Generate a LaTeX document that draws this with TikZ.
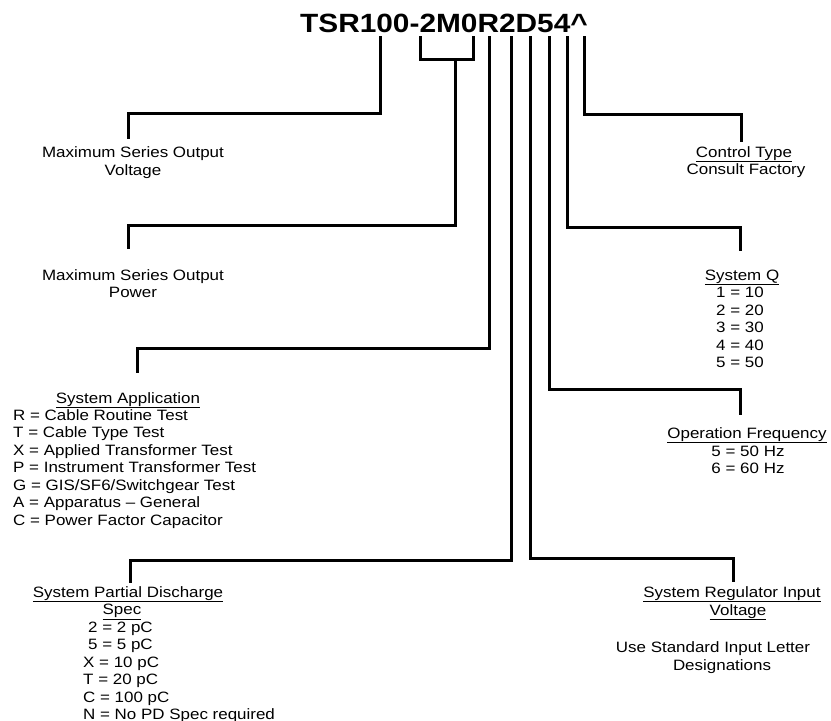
\documentclass[tikz,border=0pt]{standalone}
\usepackage{fontspec}
\setmainfont[FakeStretch=1.13]{Liberation Sans}
\begin{document}
\begin{tikzpicture}[x=1pt,y=-1pt,
  lead/.style={line width=3pt, line join=miter},
  title/.style={inner sep=0pt, anchor=base, font=\fontsize{26.4pt}{30pt}\selectfont\bfseries},
  lbl/.style={inner sep=0pt, anchor=base, font=\fontsize{15pt}{17.5pt}\selectfont},
  lblL/.style={lbl, anchor=base west}]
\useasboundingbox[fill=white] (0,0) rectangle (831,721);

% title
\node[title] (code) at (444,32) {TSR100-2M0R2D54\textasciicircum};

% connector coordinates
\coordinate (t1) at (380,36); \coordinate (k1) at (128,113); \coordinate (e1) at (128,139);
\coordinate (b1) at (420,36); \coordinate (bl) at (420,59); \coordinate (br) at (473,59); \coordinate (b2) at (473,36);
\coordinate (s2) at (455,59); \coordinate (k2) at (128,225); \coordinate (e2) at (128,249);
\coordinate (t3) at (489,36); \coordinate (k3) at (137,348); \coordinate (e3) at (137,373);
\coordinate (t4) at (511,36); \coordinate (k4) at (130,560); \coordinate (e4) at (130,583);
\coordinate (t5) at (530,36); \coordinate (k5) at (733,558); \coordinate (e5) at (733,582);
\coordinate (t6) at (549,36); \coordinate (k6) at (740,389); \coordinate (e6) at (740,415);
\coordinate (t7) at (567,36); \coordinate (k7) at (740,227); \coordinate (e7) at (740,251);
\coordinate (t8) at (584,36); \coordinate (k8) at (741,114); \coordinate (e8) at (741,142);

\draw[lead] (t1) |- (k1) -- (e1);
\draw[lead] (b1) -- (bl) -- (br) -- (b2);
\draw[lead] (s2) |- (k2) -- (e2);
\draw[lead] (t3) |- (k3) -- (e3);
\draw[lead] (t4) |- (k4) -- (e4);
\draw[lead] (t5) |- (k5) -- (e5);
\draw[lead] (t6) |- (k6) -- (e6);
\draw[lead] (t7) |- (k7) -- (e7);
\draw[lead] (t8) |- (k8) -- (e8);

% left texts
\node[lbl] (v1) at (133,157) {Maximum Series Output};
\node[lbl] (v2) at (133,175) {Voltage};
\node[lbl] (p1) at (133,280) {Maximum Series Output};
\node[lbl] (p2) at (133,297) {Power};

\node[lbl] (a0) at (128,403) {\underline{System Application}};
\node[lblL] (a1) at (13,420) {R = Cable Routine Test};
\node[lblL] (a2) at (13,437.5) {T = Cable Type Test};
\node[lblL] (a3) at (13,455) {X = Applied Transformer Test};
\node[lblL] (a4) at (13,472.5) {P = Instrument Transformer Test};
\node[lblL] (a5) at (13,490) {G = GIS/SF6/Switchgear Test};
\node[lblL] (a6) at (13,507.5) {A = Apparatus – General};
\node[lblL] (a7) at (13,525) {C = Power Factor Capacitor};

\node[lbl] (d0) at (128,597) {\underline{System Partial Discharge}};
\node[lbl] (d1) at (122,614.5) {\underline{Spec}};
\node[lblL] (d2) at (88,632) {2 = 2 pC};
\node[lblL] (d3) at (88,649.5) {5 = 5 pC};
\node[lblL] (d4) at (83,667) {X = 10 pC};
\node[lblL] (d5) at (83,684.5) {T = 20 pC};
\node[lblL] (d6) at (83,702) {C = 100 pC};
\node[lblL] (d7) at (83,719) {N = No PD Spec required};

% right texts
\node[lbl] (c0) at (744,157) {\underline{Control Type}};
\node[lbl] (c1) at (746,174) {Consult Factory};

\node[lbl] (q0) at (742,280) {\underline{System Q}};
\node[lbl] (q1) at (740,297.5) {1 = 10};
\node[lbl] (q2) at (740,315) {2 = 20};
\node[lbl] (q3) at (740,332.5) {3 = 30};
\node[lbl] (q4) at (740,350) {4 = 40};
\node[lbl] (q5) at (740,367.5) {5 = 50};

\node[lbl] (f0) at (747,438) {\underline{Operation Frequency}};
\node[lbl] (f1) at (748,456) {5 = 50 Hz};
\node[lbl] (f2) at (748,473) {6 = 60 Hz};

\node[lbl] (r0) at (732,597) {\underline{System Regulator Input}};
\node[lbl] (r1) at (738,615) {\underline{Voltage}};
\node[lbl] (r2) at (713,652) {Use Standard Input Letter};
\node[lbl] (r3) at (722,670) {Designations};
\end{tikzpicture}
\end{document}
